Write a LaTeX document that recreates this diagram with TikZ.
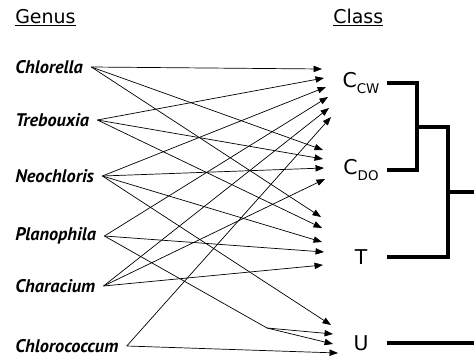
\documentclass[tikz,border=0pt]{standalone}
\usepackage{fontspec}
\setmainfont{DejaVu Sans}
\newfontfamily\genusfont{PT Sans}
\usetikzlibrary{arrows.meta}

\tikzset{
  heading/.style={anchor=base west, inner sep=0pt, font=\fontsize{13.5}{16}\selectfont},
  genus/.style={anchor=west, inner sep=0pt, outer xsep=6pt, font=\genusfont\fontsize{13}{15}\selectfont\bfseries\itshape},
  class/.style={minimum width=1cm, inner sep=0pt, outer xsep=0.15cm, font=\fontsize{14.5}{16}\selectfont},
  link/.style={line width=0.5pt, -{Triangle[length=6pt,width=4.5pt]}},
  bracket/.style={line width=2.4pt},
}
\newcommand{\csub}[1]{\raisebox{-0.5ex}{\fontsize{9.5}{10}\selectfont #1}}

\begin{document}
\begin{tikzpicture}[x=0.25mm,y=-0.25mm]
  \useasboundingbox (0,0) rectangle (474,362);

  % headings
  \node[heading] (genushead) at (15,23) {\underline{Genus}};
  \node[heading] (classhead) at (333,23) {\underline{Class}};

  % genera (outer xsep pushes the text 8 units right)
  \node[genus] (chlorella) at (7,67) {Chlorella};
  \node[genus] (trebouxia) at (7,120) {Trebouxia};
  \node[genus] (neochloris) at (7,176) {Neochloris};
  \node[genus] (planophila) at (7,236) {Planophila};
  \node[genus] (characium) at (7,286) {Characium};
  \node[genus] (chlorococcum) at (7,346) {Chlorococcum};

  % classes
  \node[class] (ccw) at (361,83) {C\csub{CW}};
  \node[class] (cdo) at (361,170) {C\csub{DO}};
  \node[class] (t) at (361,257) {T};
  \node[class] (u) at (361,343) {U};

  % arrow tips
  \foreach \n/\x/\y in {ccw1/322/69, ccw2/324/78, ccw3/326/87, ccw4/328/97, ccw5/329/108, ccw6/331/117,
      cdo1/323/150, cdo2/323/159, cdo3/324/168, cdo4/325/179,
      t1/321/217, t2/322/228, t3/322/242, t4/324/252, t5/323/265,
      u1/331/325, u2/333/334, u3/333/344, u4/338/353} {
    \coordinate (\n) at (\x,\y);
  }
  \coordinate (kink) at (267,328);

  % genus -> class
  \foreach \g/\c in {chlorella/ccw1, chlorella/cdo1, chlorella/t1,
      trebouxia/ccw2, trebouxia/cdo2, trebouxia/t2,
      neochloris/ccw3, neochloris/cdo3, neochloris/t3, neochloris/u1,
      planophila/ccw4, planophila/t4,
      characium/ccw5, characium/cdo4, characium/t5,
      chlorococcum/ccw6, chlorococcum/u4} {
    \draw[link] (\g.east) -- (\c);
  }
  \draw[line width=0.5pt] (planophila.east) -- (kink);
  \draw[link] (kink) -- (u2);
  \draw[link] (kink) -- (u3);

  % tree of classes
  \coordinate (j1) at (417,127);
  \coordinate (j2) at (448,192);
  \coordinate (rootend) at (476,192);
  \coordinate (uend) at (476,343);
  \draw[bracket] (ccw) -| (j1) |- (cdo);
  \draw[bracket] (j1) -| (j2) |- (t);
  \draw[bracket] (j2) -- (rootend);
  \draw[bracket] (u) -- (uend);
\end{tikzpicture}
\end{document}
